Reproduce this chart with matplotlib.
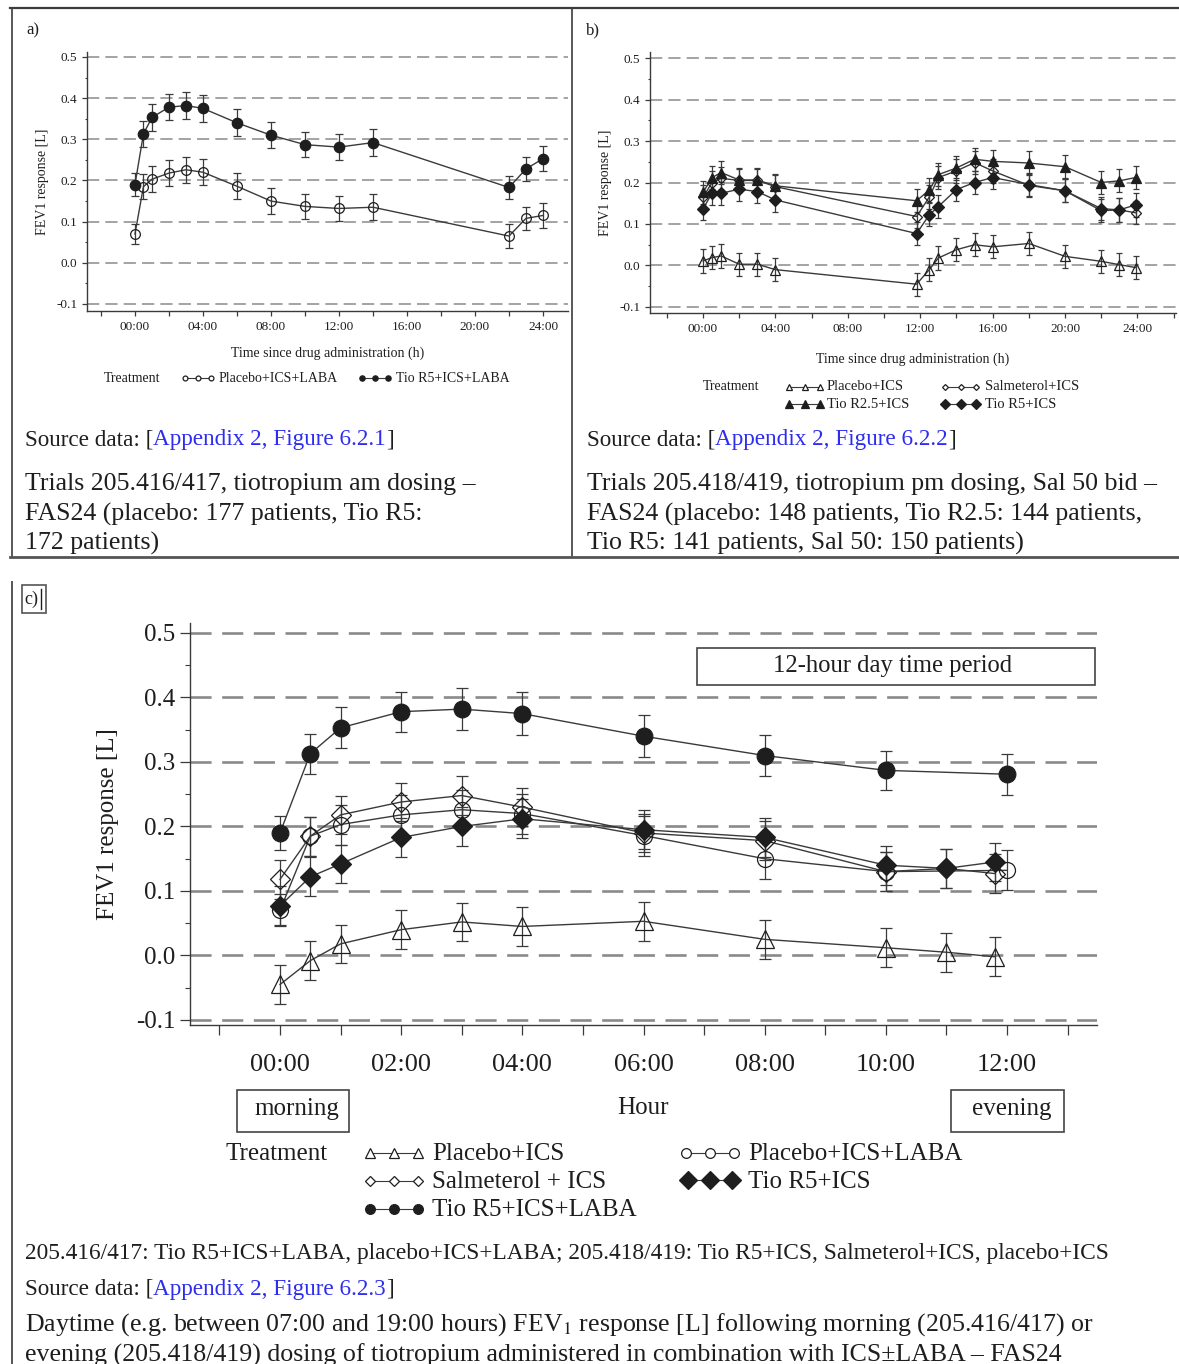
import matplotlib
matplotlib.use("Agg")
import matplotlib.pyplot as plt
from matplotlib.lines import Line2D
from matplotlib.patches import Rectangle
from matplotlib.ticker import MultipleLocator, FixedLocator

# ---------------- data ----------------
# a) morning dosing, 24 h profile
hours_a = [0, 0.5, 1, 2, 3, 4, 6, 8, 10, 12, 14, 22, 23, 24]
tio_laba_a = [0.190, 0.313, 0.353, 0.378, 0.382, 0.375, 0.340, 0.310, 0.287, 0.281, 0.292, 0.183, 0.228, 0.253]
tio_laba_a_se = [0.027, 0.031, 0.032, 0.031, 0.032, 0.033, 0.033, 0.032, 0.031, 0.032, 0.033, 0.029, 0.029, 0.030]
pla_laba_a = [0.070, 0.185, 0.203, 0.218, 0.226, 0.220, 0.186, 0.150, 0.137, 0.132, 0.135, 0.065, 0.108, 0.115]
pla_laba_a_se = [0.025, 0.030, 0.031, 0.031, 0.031, 0.031, 0.031, 0.032, 0.031, 0.031, 0.032, 0.030, 0.028, 0.030]

# b) evening dosing, 24 h profile
hours_b = [0, 0.5, 1, 2, 3, 4, 11.8, 12.5, 13, 14, 15, 16, 18, 20, 22, 23, 23.9]
pla_ics_b = [0.011, 0.019, 0.023, 0.003, 0.003, -0.010, -0.045, -0.010, 0.018, 0.038, 0.050, 0.045, 0.053, 0.022, 0.010, 0.002, -0.005]
sal_ics_b = [0.165, 0.200, 0.210, 0.205, 0.205, 0.190, 0.118, 0.165, 0.212, 0.228, 0.248, 0.228, 0.193, 0.180, 0.132, 0.134, 0.127]
tio25_ics_b = [0.176, 0.212, 0.224, 0.206, 0.206, 0.192, 0.156, 0.182, 0.219, 0.235, 0.256, 0.251, 0.247, 0.238, 0.200, 0.204, 0.212]
tio5_ics_b = [0.137, 0.174, 0.174, 0.184, 0.178, 0.158, 0.077, 0.122, 0.142, 0.183, 0.200, 0.212, 0.195, 0.180, 0.137, 0.134, 0.146]
se_b = 0.028

# c) 12-hour daytime period
hours_c_am = [0, 0.5, 1, 2, 3, 4, 6, 8, 10, 12]
tio_laba_c = [0.190, 0.313, 0.353, 0.378, 0.382, 0.375, 0.340, 0.310, 0.287, 0.281]
tio_laba_c_se = [0.027, 0.031, 0.032, 0.031, 0.032, 0.033, 0.033, 0.032, 0.030, 0.032]
pla_laba_c = [0.070, 0.185, 0.203, 0.218, 0.226, 0.220, 0.186, 0.150, 0.130, 0.132]
pla_laba_c_se = [0.025, 0.030, 0.031, 0.031, 0.031, 0.031, 0.031, 0.032, 0.030, 0.031]
hours_c_pm = [0, 0.5, 1, 2, 3, 4, 6, 8, 10, 11, 11.8]
pla_ics_c = [-0.045, -0.008, 0.018, 0.040, 0.052, 0.045, 0.053, 0.025, 0.012, 0.005, -0.002]
sal_ics_c = [0.118, 0.185, 0.218, 0.238, 0.248, 0.230, 0.190, 0.178, 0.130, 0.135, 0.127]
tio5_ics_c = [0.077, 0.122, 0.142, 0.183, 0.200, 0.212, 0.195, 0.183, 0.140, 0.135, 0.145]
se_c = 0.030

y_ticks = [-0.1, 0.0, 0.1, 0.2, 0.3, 0.4, 0.5]
y_tick_labels = ["-0.1", "0.0", "0.1", "0.2", "0.3", "0.4", "0.5"]
x_ticks_24 = [0, 4, 8, 12, 16, 20, 24]
x_tick_labels_24 = ["00:00", "04:00", "08:00", "12:00", "16:00", "20:00", "24:00"]
x_ticks_12 = [0, 2, 4, 6, 8, 10, 12]
x_tick_labels_12 = ["00:00", "02:00", "04:00", "06:00", "08:00", "10:00", "12:00"]

# ---------------- figure ----------------
plt.rcParams["font.family"] = ["Liberation Serif", "DejaVu Serif"]
plt.rcParams["mathtext.fontset"] = "stix"

W, H = 1179, 1364
fig = plt.figure(figsize=(W / 100, H / 100), dpi=100)
fig.patch.set_facecolor("white")

INK = "#1e1e1e"
AXC = "#3a3a3a"
GRID = "#8a8a8a"
LINK = "#2d2df0"


def fx(x):
    return x / W


def fy(y):
    return 1 - y / H


def px_axes(left, top, right, bottom):
    return fig.add_axes([fx(left), fy(bottom), (right - left) / W, (bottom - top) / H])


def ftext(x, y, s, **kw):
    kw.setdefault("color", INK)
    kw.setdefault("va", "center")
    return fig.text(fx(x), fy(y), s, **kw)


def fline(xs, ys, **kw):
    fig.add_artist(Line2D([fx(v) for v in xs], [fy(v) for v in ys],
                          transform=fig.transFigure, **kw))


def fbox(x0, y0, x1, y1, **kw):
    fig.add_artist(Rectangle((fx(x0), fy(y1)), (x1 - x0) / W, (y1 - y0) / H,
                             transform=fig.transFigure, fill=False, **kw))


def rich_text(x, y, parts, size):
    renderer = fig.canvas.get_renderer()
    cur = x
    for s, color in parts:
        t = ftext(cur, y, s, color=color, fontsize=size, ha="left")
        cur += t.get_window_extent(renderer=renderer).width


def legend_symbol(x0, x1, y, marker, ms, filled, mew=0.9):
    xs = [x0 + (x1 - x0) * k / 2 for k in range(3)]
    fline([x0, x1], [y, y], color=AXC, lw=0.8)
    fline(xs, [y] * 3, ls="none", marker=marker, ms=ms, mec=INK,
          mfc=INK if filled else "white", mew=mew)


def style_axes(ax, xlim, ylim, xt, xtl, xminor, fs, grid_lw, tick_len):
    ax.set_xlim(*xlim)
    ax.set_ylim(*ylim)
    for s in ("top", "right"):
        ax.spines[s].set_visible(False)
    for s in ("left", "bottom"):
        ax.spines[s].set_color(AXC)
        ax.spines[s].set_linewidth(1.0)
    ax.set_yticks(y_ticks)
    ax.set_yticklabels(y_tick_labels)
    ax.yaxis.set_minor_locator(MultipleLocator(0.05))
    ax.set_xticks(xt)
    ax.set_xticklabels(xtl)
    ax.xaxis.set_minor_locator(FixedLocator(xminor))
    ax.tick_params(axis="both", which="major", direction="out", length=tick_len,
                   width=0.9, color=AXC, labelsize=fs, labelcolor=INK)
    ax.tick_params(axis="x", which="minor", direction="out", length=tick_len,
                   width=0.9, color=AXC)
    ax.tick_params(axis="y", which="minor", direction="out", length=tick_len * 0.5,
                   width=0.8, color=AXC)
    for v in y_ticks:
        ax.axhline(v, color=GRID, lw=grid_lw, ls=(0, (8, 4)), zorder=0)
    ax.patch.set_alpha(0)


def series(ax, x, y, err, marker, ms, filled, capsize, lw=1.0):
    ax.errorbar(x, y, yerr=err, fmt="-", marker=marker, ms=ms, color=AXC, lw=lw,
                mec=INK, mfc=INK if filled else "none", mew=0.9,
                ecolor=AXC, elinewidth=0.9, capsize=capsize, capthick=0.9, zorder=3)


# ---------------- frame lines ----------------
fline([10, 1179], [8, 8], color="#3c3c3c", lw=1.6)
fline([12, 12], [8, 557], color="#3c3c3c", lw=1.2)
fline([572, 572], [8, 557], color="#3c3c3c", lw=1.2)
fline([10, 1179], [557, 557], color="#555555", lw=2.0)
fline([12, 12], [582, 1364], color="#555555", lw=1.4)

SMALL = 10

# ---------------- panel a ----------------
ax_a = px_axes(87, 52, 568, 311)
style_axes(ax_a, (-2.82, 25.47), (-0.117, 0.512), x_ticks_24, x_tick_labels_24,
           [-2, 2, 6, 10, 14, 18, 22, 26], 9.5, 1.1, 3.5)
series(ax_a, hours_a, tio_laba_a, tio_laba_a_se, "o", 7.5, True, 2.8)
series(ax_a, hours_a, pla_laba_a, pla_laba_a_se, "o", 7, False, 2.8)
ax_a.set_ylabel("FEV1 response [L]", fontsize=SMALL, color=INK, labelpad=5)
ax_a.set_xlabel("Time since drug administration (h)", fontsize=SMALL, color=INK, labelpad=10)

ftext(26, 30, "a)", fontsize=12)
ftext(104, 378, "Treatment", fontsize=SMALL)
legend_symbol(185, 211, 378, "o", 3.5, False)
ftext(219, 378, "Placebo+ICS+LABA", fontsize=SMALL)
legend_symbol(362, 388, 378, "o", 3.8, True)
ftext(396, 378, "Tio R5+ICS+LABA", fontsize=SMALL)

rich_text(25, 440, [("Source data: [", INK), ("Appendix 2, Figure 6.2.1", LINK), ("]", INK)], 16.7)
ftext(25, 484, "Trials 205.416/417, tiotropium am dosing \u2013", fontsize=18.6)
ftext(25, 514, "FAS24 (placebo: 177 patients, Tio R5:", fontsize=18.6)
ftext(25, 543, "172 patients)", fontsize=18.6)

# ---------------- panel b ----------------
ax_b = px_axes(650, 52, 1176, 313)
style_axes(ax_b, (-2.93, 26.13), (-0.1145, 0.5145), x_ticks_24, x_tick_labels_24,
           [-2, 2, 6, 10, 14, 18, 22, 26], 9.5, 1.1, 3.5)
series(ax_b, hours_b, pla_ics_b, se_b, "^", 7, False, 2.5)
series(ax_b, hours_b, sal_ics_b, se_b, "D", 5.5, False, 2.5)
series(ax_b, hours_b, tio25_ics_b, se_b, "^", 7, True, 2.5)
series(ax_b, hours_b, tio5_ics_b, se_b, "D", 6, True, 2.5)
ax_b.set_ylabel("FEV1 response [L]", fontsize=SMALL, color=INK, labelpad=5)
ax_b.set_xlabel("Time since drug administration (h)", fontsize=SMALL, color=INK, labelpad=13)

ftext(586, 30, "b)", fontsize=12)
ftext(703, 387, "Treatment", fontsize=SMALL)
legend_symbol(789, 820, 387, "^", 3.8, False)
ftext(827, 387, "Placebo+ICS", fontsize=10.5)
legend_symbol(945, 976, 387, "D", 3.0, False)
ftext(985, 387, "Salmeterol+ICS", fontsize=10.5)
legend_symbol(789, 820, 404, "^", 5.5, True)
ftext(827, 404, "Tio R2.5+ICS", fontsize=10.5)
legend_symbol(945, 976, 404, "D", 5.0, True)
ftext(985, 404, "Tio R5+ICS", fontsize=10.5)

rich_text(587, 440, [("Source data: [", INK), ("Appendix 2, Figure 6.2.2", LINK), ("]", INK)], 16.7)
ftext(587, 484, "Trials 205.418/419, tiotropium pm dosing, Sal 50 bid \u2013", fontsize=18.6)
ftext(587, 514, "FAS24 (placebo: 148 patients, Tio R2.5: 144 patients,", fontsize=18.6)
ftext(587, 543, "Tio R5: 141 patients, Sal 50: 150 patients)", fontsize=18.6)

# ---------------- panel c ----------------
BIG = 18
ax_c = px_axes(190, 623, 1097, 1025)
style_axes(ax_c, (-1.486, 13.486), (-0.1078, 0.5155), x_ticks_12, x_tick_labels_12,
           [-1, 1, 3, 5, 7, 9, 11, 13], BIG, 1.9, 7)
ax_c.tick_params(axis="x", which="major", labelsize=19, pad=14)
series(ax_c, hours_c_pm, pla_ics_c, se_c, "^", 13, False, 4.3)
series(ax_c, hours_c_am, pla_laba_c, pla_laba_c_se, "o", 11.5, False, 4.3)
series(ax_c, hours_c_pm, sal_ics_c, se_c, "D", 10, False, 4.3)
series(ax_c, hours_c_pm, tio5_ics_c, se_c, "D", 10, True, 4.3)
series(ax_c, hours_c_am, tio_laba_c, tio_laba_c_se, "o", 12, True, 4.3)
ax_c.set_ylabel("FEV1 response [L]", fontsize=BIG, color=INK, labelpad=12)

ftext(31, 599, "c)", fontsize=13, ha="center")
fline([41, 41], [589, 609], color=INK, lw=1.0)
fbox(22, 585, 46, 613, ec="#555555", lw=1.2)

fbox(697, 648, 1095, 685, ec="#444444", lw=1.2)
ftext(893, 666, "12-hour day time period", fontsize=17.7, ha="center")
fbox(237, 1090, 349, 1132, ec="#444444", lw=1.2)
ftext(297, 1109, "morning", fontsize=BIG, ha="center")
fbox(951, 1090, 1064, 1132, ec="#444444", lw=1.2)
ftext(1012, 1109, "evening", fontsize=BIG, ha="center")
ftext(643, 1108, "Hour", fontsize=BIG, ha="center")

ftext(225, 1154, "Treatment", fontsize=BIG)
legend_symbol(370, 418, 1153, "^", 7, False)
ftext(432, 1154, "Placebo+ICS", fontsize=BIG)
legend_symbol(370, 418, 1181, "D", 5, False)
ftext(432, 1182, "Salmeterol + ICS", fontsize=BIG)
legend_symbol(370, 418, 1209, "o", 7, True)
ftext(432, 1210, "Tio R5+ICS+LABA", fontsize=BIG)
legend_symbol(686, 734, 1153, "o", 7, False)
ftext(748, 1154, "Placebo+ICS+LABA", fontsize=BIG)
legend_symbol(688, 732, 1180, "D", 9, True)
ftext(748, 1182, "Tio R5+ICS", fontsize=BIG)

ftext(25, 1254, "205.416/417: Tio R5+ICS+LABA, placebo+ICS+LABA; 205.418/419: Tio R5+ICS, "
      "Salmeterol+ICS, placebo+ICS", fontsize=16.8)
rich_text(25, 1289, [("Source data: [", INK), ("Appendix 2, Figure 6.2.3", LINK), ("]", INK)], 16.7)
ftext(25, 1325, "Daytime (e.g. between 07:00 and 19:00 hours) FEV$_1$ response [L] following "
      "morning (205.416/417) or", fontsize=18.6)
ftext(25, 1355, "evening (205.418/419) dosing of tiotropium administered in combination with "
      "ICS\u00b1LABA \u2013 FAS24", fontsize=18.6)

fig.savefig("out.png", dpi=100, facecolor="white")
